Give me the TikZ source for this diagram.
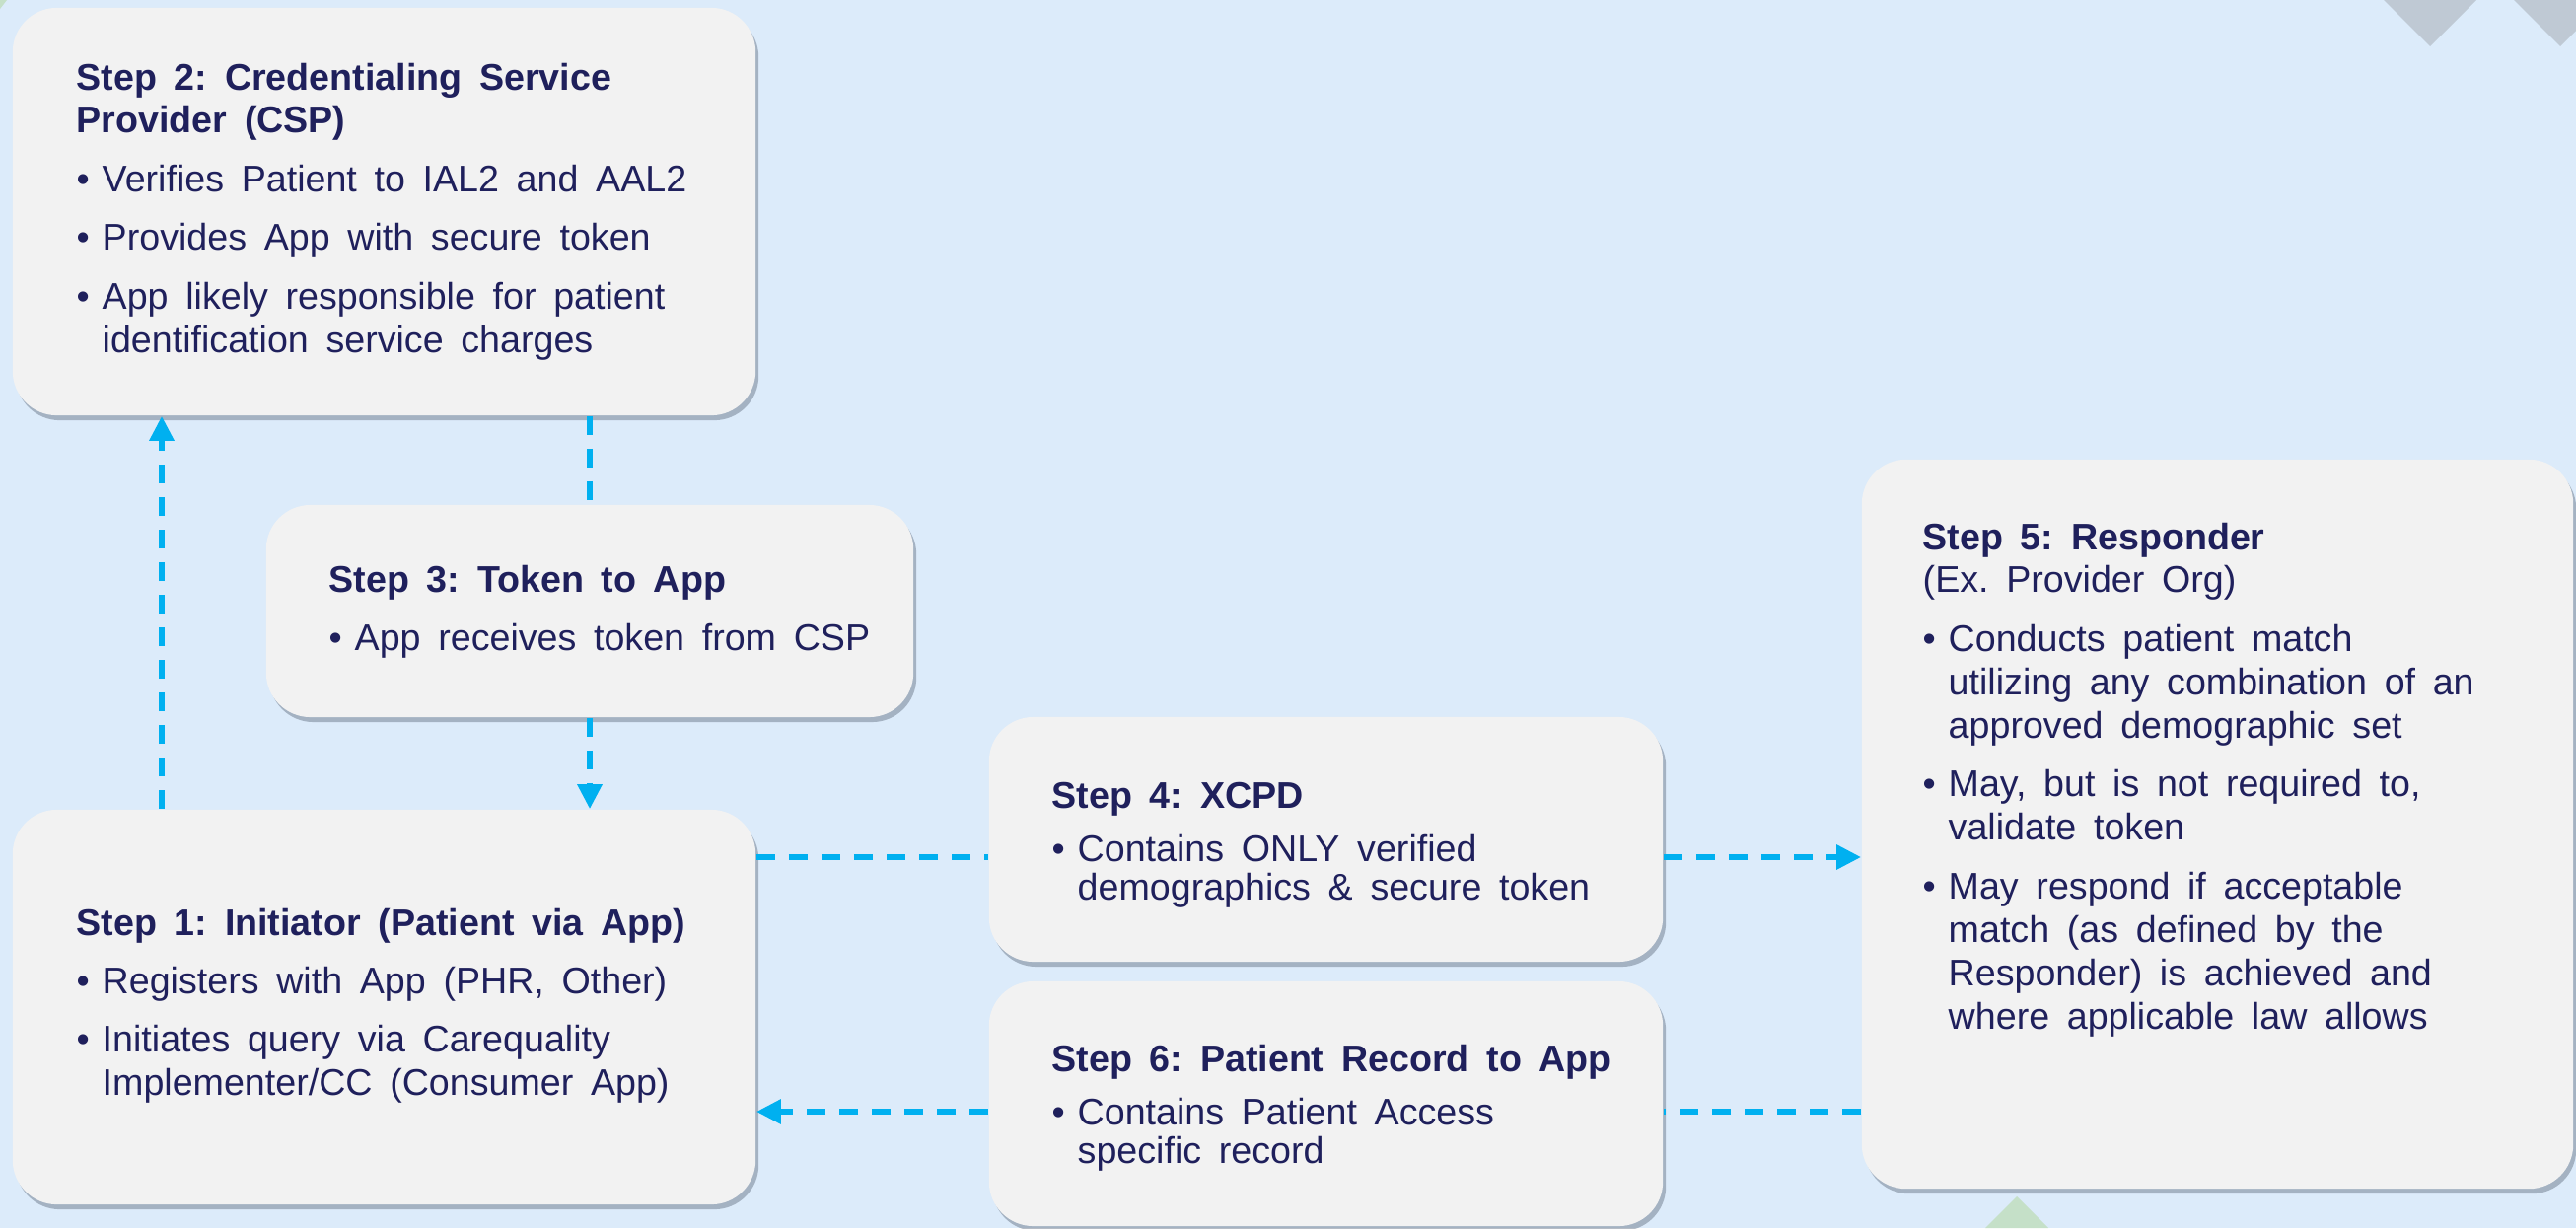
\documentclass[tikz,border=0pt]{standalone}
\usepackage{fontspec}
\setmainfont{Liberation Sans}
\usetikzlibrary{arrows.meta,shadows}

\definecolor{bgblue}{RGB}{220,235,250}
\definecolor{boxgray}{RGB}{242,242,242}
\definecolor{navy}{RGB}{31,32,92}
\definecolor{flowcyan}{RGB}{0,176,240}
\definecolor{decogray}{RGB}{191,201,212}
\definecolor{decogreen}{RGB}{197,224,200}
\definecolor{shadowgray}{RGB}{110,122,140}

\newlength{\itemgap}
\setlength{\itemgap}{0.155cm}
\newcommand{\stepitem}[1]{\par\vspace{\itemgap}\hangindent=0.26cm\hangafter=1\noindent\makebox[0.26cm][l]{\textbullet}#1\par}
\newcommand{\stepspacing}{\frenchspacing\spaceskip=0.47em plus 0.1em minus 0.05em\relax}

\begin{document}
\begin{tikzpicture}[x=0.01cm,y=-0.01cm,
  stepbox/.style={fill=boxgray,rounded corners=0.45cm,
    drop shadow={shadow xshift=0.03cm,shadow yshift=-0.05cm,opacity=0.5,fill=shadowgray}},
  steptext/.style={anchor=base west,inner sep=0pt,text width=7cm,align=left,text=navy,
    font=\fontsize{10.7pt}{12.5pt}\selectfont,execute at begin node=\stepspacing},
  tighttext/.style={steptext,font=\fontsize{10.7pt}{11.1pt}\selectfont},
  flow/.style={draw=flowcyan,line width=0.06cm,dash pattern=on 0.19cm off 0.14cm},
  flowtip/.style={-{Triangle[width=0.24cm,length=0.25cm]}}]

  % Background
  \useasboundingbox (0,0) rectangle (2612,1245);
  \clip (0,0) rectangle (2612,1245);
  \fill[bgblue] (0,0) rectangle (2612,1245);
  \fill[decogray] (2417,0) -- (2511,0) -- (2464,47) -- cycle;
  \fill[decogray] (2549,0) -- (2643,0) -- (2596,47) -- cycle;
  \fill[decogreen] (2013,1245) -- (2045,1213) -- (2077,1245) -- cycle;
  \fill[decogreen] (0,0) -- (7,0) -- (0,9) -- cycle;

  % Boxes
  \node[stepbox,minimum width=7.53cm,minimum height=4.13cm] (csp) at (389.5,214.5) {};
  \node[stepbox,minimum width=6.56cm,minimum height=2.15cm] (token) at (598,619.5) {};
  \node[stepbox,minimum width=7.53cm,minimum height=4cm] (initiator) at (389.5,1021) {};
  \node[stepbox,minimum width=6.83cm,minimum height=2.48cm] (xcpd) at (1344.5,851) {};
  \node[stepbox,minimum width=6.83cm,minimum height=2.48cm] (record) at (1344.5,1119) {};
  \node[stepbox,minimum width=7.21cm,minimum height=7.39cm] (responder) at (2248.5,835.5) {};

  % Labels
  \node[steptext] (csp-text) at (77,91) {\textbf{Step 2: Credentialing Service\newline Provider (CSP)}
    \stepitem{Verifies Patient to IAL2 and AAL2}
    \stepitem{Provides App with secure token}
    \stepitem{App likely responsible for patient\newline identification service charges}};
  \node[steptext] (token-text) at (333,600) {\textbf{Step 3: Token to App}
    \stepitem{App receives token from CSP}};
  \node[steptext] (initiator-text) at (77,948) {\textbf{Step 1: Initiator (Patient via App)}
    \stepitem{Registers with App (PHR, Other)}
    \stepitem{Initiates query via Carequality\newline Implementer/CC (Consumer App)}};
  \node[tighttext] (xcpd-text) at (1066,819) {\textbf{Step 4: XCPD}
    \stepitem{Contains ONLY verified\newline demographics \& secure token}};
  \node[tighttext] (record-text) at (1066,1086) {\textbf{Step 6: Patient Record to App}
    \stepitem{Contains Patient Access\newline specific record}};
  \node[steptext] (responder-text) at (1949,557) {\textbf{Step 5: Responder}\newline (Ex. Provider Org)
    \stepitem{Conducts patient match\newline utilizing any combination of an\newline approved demographic set}
    \stepitem{May, but is not required to,\newline validate token}
    \stepitem{May respond if acceptable\newline match (as defined by the\newline Responder) is achieved and\newline where applicable law allows}};

  % Arrows
  \coordinate (upx) at (164,0);
  \coordinate (dnx) at (598,0);
  \coordinate (fwy) at (0,869);
  \coordinate (bky) at (0,1127);
  \draw[flow,flowtip] (initiator.north -| upx) -- (csp.south -| upx);
  \draw[flow] (csp.south -| dnx) -- (token.north -| dnx);
  \draw[flow,flowtip] (token.south -| dnx) -- (initiator.north -| dnx);
  \draw[flow] (initiator.east |- fwy) -- (xcpd.west |- fwy);
  \draw[flow,flowtip] (xcpd.east |- fwy) -- (responder.west |- fwy);
  \draw[flow] (responder.west |- bky) -- (record.east |- bky);
  \draw[flow,flowtip] (record.west |- bky) -- (initiator.east |- bky);

\end{tikzpicture}
\end{document}
